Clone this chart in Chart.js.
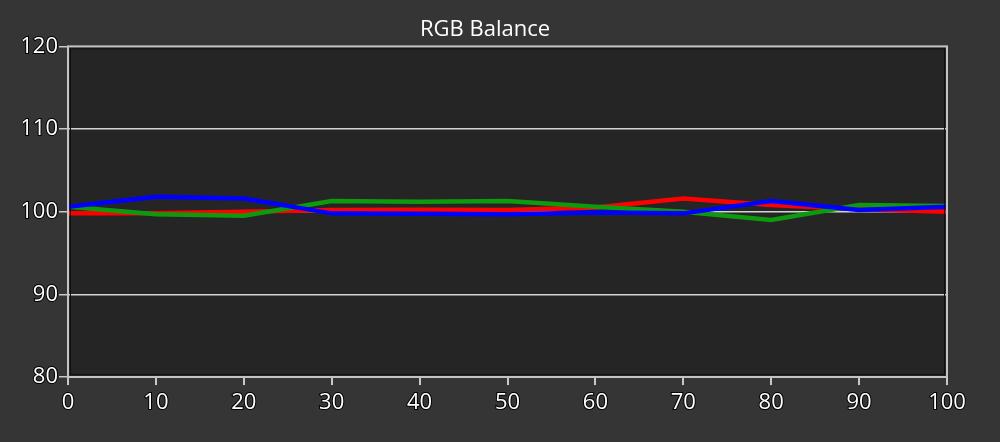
<!DOCTYPE html>
<html>
<head>
<meta charset="utf-8">
<script src="https://cdn.jsdelivr.net/npm/chart.js@4.4.0/dist/chart.umd.min.js"></script>
<style>
html,body{margin:0;padding:0;background:#353535;}
#wrap{width:1000px;height:442px;position:relative;}
</style>
</head>
<body>
<div id="wrap"><canvas id="c" width="1000" height="442"></canvas></div>
<script>
const xValues = [0, 10, 20, 30, 40, 50, 60, 70, 80, 90, 100];
const redValues = [99.8, 99.8, 100.0, 100.2, 100.25, 100.2, 100.5, 101.6, 100.8, 100.3, 100.0];
const greenValues = [100.6, 99.7, 99.5, 101.3, 101.2, 101.3, 100.6, 100.0, 99.0, 100.8, 100.7];
const blueValues = [100.6, 101.8, 101.6, 99.8, 99.75, 99.7, 99.9, 99.8, 101.3, 100.2, 100.6];
const yTicks = [80, 90, 100, 110, 120];
const titleText = "RGB Balance";

function pts(vals){ return xValues.map((x,i)=>({x:x,y:vals[i]})); }

const frame = {
  id:'frame',
  beforeDraw(chart){
    const {ctx, chartArea:a} = chart;
    ctx.save();
    ctx.fillStyle = '#252525';
    ctx.fillRect(a.left, a.top, a.right-a.left, a.bottom-a.top);
    ctx.restore();
  },
  afterDraw(chart){
    const {ctx, chartArea:a} = chart;
    ctx.save();
    ctx.strokeStyle = '#101010';
    ctx.lineWidth = 1;
    ctx.strokeRect(a.left+2.5, a.top+2.5, a.right-a.left-5, a.bottom-a.top-5);
    ctx.strokeStyle = '#c4c4c4';
    ctx.lineWidth = 2;
    ctx.strokeRect(a.left, a.top, a.right-a.left, a.bottom-a.top);
    ctx.restore();
  }
};

const tickFont = {family:'"Open Sans", "Noto Sans", sans-serif', size:22};

new Chart(document.getElementById('c'), {
  type:'line',
  data:{
    datasets:[
      {label:'Blue', data:pts(blueValues), borderColor:'#0000ff', borderWidth:4.5, pointRadius:0, tension:0},
      {label:'Green', data:pts(greenValues), borderColor:'#0e9a0e', borderWidth:4.5, pointRadius:0, tension:0},
      {label:'Red', data:pts(redValues), borderColor:'#ff0000', borderWidth:4.5, pointRadius:0, tension:0}
    ]
  },
  options:{
    responsive:false,
    animation:false,
    layout:{padding:{left:23, right:53, top:0, bottom:0}},
    plugins:{
      legend:{display:false},
      tooltip:{enabled:false},
      title:{display:true, text:titleText, color:'#ffffff',
        font:{family:'"Open Sans", "Noto Sans", sans-serif', size:22, weight:'normal'},
        padding:{top:17, bottom:3}}
    },
    scales:{
      x:{
        type:'linear', min:0, max:100,
        afterFit(s){ s.height = 65; },
        ticks:{stepSize:10, color:'#ffffff', font:tickFont, padding:5, maxRotation:0,
          textStrokeColor:'#000000', textStrokeWidth:2},
        grid:{drawOnChartArea:false, drawTicks:true, tickLength:8, tickColor:'#c8c8c8', lineWidth:2},
        border:{display:false}
      },
      y:{
        min:80, max:120,
        afterFit(s){ s.width = 45; },
        afterBuildTicks(s){ s.ticks = yTicks.map(v=>({value:v})); },
        ticks:{color:'#ffffff', font:tickFont, padding:1,
          textStrokeColor:'#000000', textStrokeWidth:2},
        grid:{
          color:(c)=> (c.tick && (c.tick.value===80 || c.tick.value===120)) ? 'rgba(0,0,0,0)' : '#d4d4d4',
          lineWidth:1.5, drawTicks:true, tickLength:9, tickColor:'#c8c8c8'
        },
        border:{display:false}
      }
    }
  },
  plugins:[frame]
});
</script>
</body>
</html>
